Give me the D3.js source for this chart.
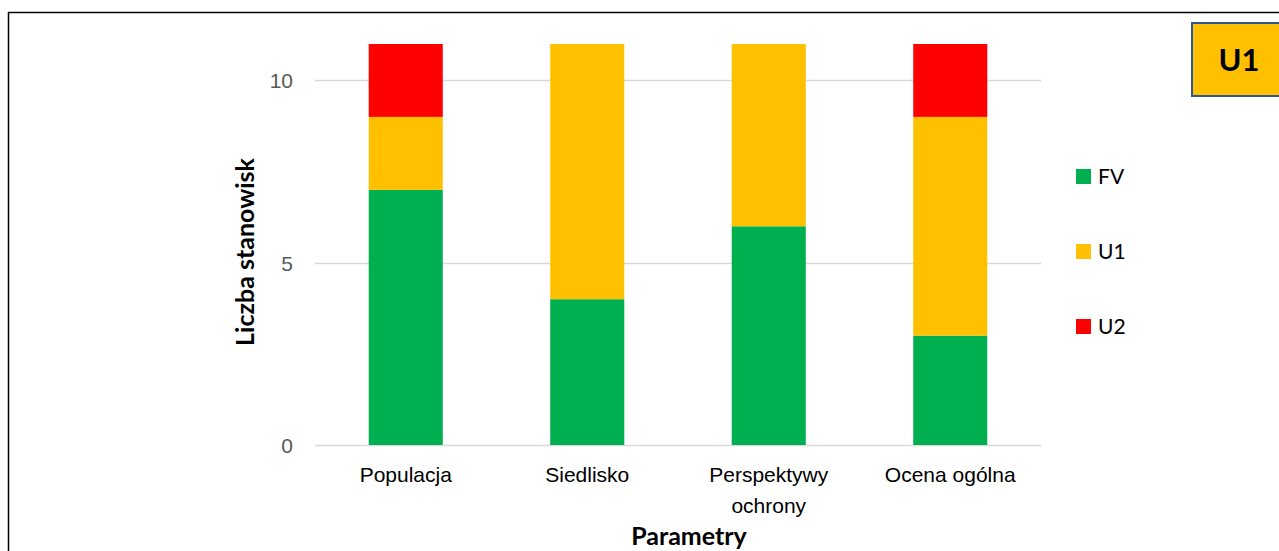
<!DOCTYPE html>
<html>
<head>
<meta charset="utf-8">
<script src="https://cdn.jsdelivr.net/npm/d3@7"></script>
<style>
  html, body { margin: 0; padding: 0; background: #fff; }
  svg { display: block; font-family: Lato, "Open Sans", sans-serif; }
</style>
</head>
<body>
<svg id="chart" width="1279" height="551"></svg>
<script>
// Number of sites per assessment class for each parameter
const categories = ["Populacja", "Siedlisko", "Perspektywy ochrony", "Ocena ogólna"];
const seriesNames = ["FV", "U1", "U2"];
const fvValues = [7, 4, 6, 3];
const u1Values = [2, 7, 5, 6];
const u2Values = [2, 0, 0, 2];
const seriesColors = ["#00B050", "#FFC000", "#FF0000"];
const yTicks = [0, 5, 10];
const yMax = 11;
const yTitle = "Liczba stanowisk";
const xTitle = "Parametry";
const badgeText = "U1";

const rows = categories.map((c, i) => ({ cat: c, FV: fvValues[i], U1: u1Values[i], U2: u2Values[i] }));

const svg = d3.select("#chart");
const W = 1279, H = 551;
const plot = { left: 315, right: 1041, top: 44, bottom: 445 };

// outer frame
svg.append("rect")
  .attr("x", 8.5).attr("y", 12.5)
  .attr("width", W + 20).attr("height", H + 20)
  .attr("fill", "#fff").attr("stroke", "#000").attr("stroke-width", 1.5);

const x = d3.scaleBand()
  .domain(categories)
  .range([plot.left, plot.right])
  .paddingInner(0.592)
  .paddingOuter(0.296);

const y = d3.scaleLinear().domain([0, yMax]).range([plot.bottom, plot.top]);

// gridlines
svg.append("g")
  .selectAll("line")
  .data(yTicks)
  .join("line")
  .attr("x1", plot.left).attr("x2", plot.right)
  .attr("y1", d => Math.round(y(d)) + 0.5).attr("y2", d => Math.round(y(d)) + 0.5)
  .attr("stroke", "#d9d9d9").attr("stroke-width", 1.5);

// y axis tick labels
const yAxis = d3.axisLeft(y).tickValues(yTicks).tickSize(0).tickPadding(22);
const gy = svg.append("g").attr("transform", `translate(${plot.left},0)`).call(yAxis);
gy.select(".domain").remove();
gy.selectAll("text")
  .attr("fill", "#595959")
  .style("font-size", "21px")
  .attr("dy", "0.35em");

// stacked bars
const stack = d3.stack().keys(seriesNames);
const layers = stack(rows);
svg.append("g")
  .selectAll("g")
  .data(layers)
  .join("g")
  .attr("fill", (d, i) => seriesColors[i])
  .selectAll("rect")
  .data(d => d.filter(s => s[1] - s[0] > 0))
  .join("rect")
  .attr("x", d => x(d.data.cat))
  .attr("width", x.bandwidth())
  .attr("y", d => y(d[1]))
  .attr("height", d => y(d[0]) - y(d[1]));

// x axis category labels (wrapped)
const xAxis = d3.axisBottom(x).tickSize(0).tickPadding(0);
const gx = svg.append("g").attr("transform", `translate(0,${plot.bottom})`).call(xAxis);
gx.select(".domain").remove();
gx.selectAll("text").each(function (d) {
  const t = d3.select(this);
  t.text(null).attr("y", 0).attr("dy", null).attr("fill", "#000").style("font-size", "21px");
  const words = d === "Perspektywy ochrony" ? ["Perspektywy", "ochrony"] : [d];
  words.forEach((w, i) => {
    t.append("tspan").attr("x", 0).attr("y", 37 + i * 31).text(w);
  });
});

// axis titles
svg.append("text")
  .attr("transform", "translate(254,252) rotate(-90)")
  .attr("text-anchor", "middle")
  .attr("font-weight", "bold")
  .style("font-size", "25px")
  .attr("fill", "#000")
  .text(yTitle);

svg.append("text")
  .attr("x", 689)
  .attr("y", 545)
  .attr("text-anchor", "middle")
  .attr("font-weight", "bold")
  .style("font-size", "25px")
  .attr("fill", "#000")
  .text(xTitle);

// legend
const legend = svg.append("g").attr("transform", "translate(1076,0)");
const legendY = [177, 252, 327];
seriesNames.forEach((s, i) => {
  const g = legend.append("g").attr("transform", `translate(0,${legendY[i]})`);
  g.append("rect").attr("x", 0).attr("y", -8).attr("width", 15).attr("height", 15).attr("fill", seriesColors[i]);
  g.append("text").attr("x", 22).attr("y", 0).attr("dy", "0.35em")
    .style("font-size", "21px").attr("fill", "#000").text(s);
});

// class badge
svg.append("rect")
  .attr("x", 1192).attr("y", 23)
  .attr("width", 110).attr("height", 73)
  .attr("fill", "#FFC000").attr("stroke", "#2F5597").attr("stroke-width", 2);
svg.append("text")
  .attr("x", 1239).attr("y", 60).attr("dy", "0.35em")
  .attr("text-anchor", "middle")
  .attr("font-weight", "bold")
  .style("font-size", "31px")
  .attr("fill", "#000")
  .text(badgeText);
</script>
</body>
</html>
